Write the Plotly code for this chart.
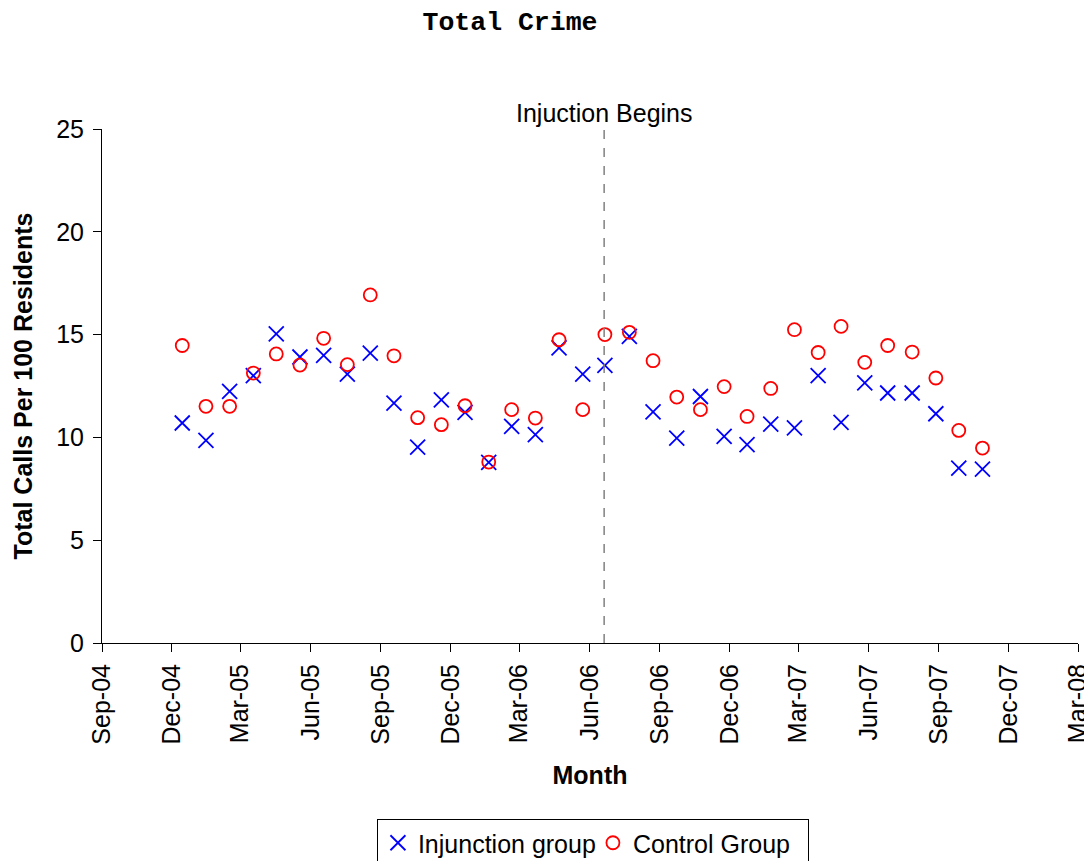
import plotly.graph_objects as go

dates = [
    "2004-12-15", "2005-01-15", "2005-02-15", "2005-03-18", "2005-04-17",
    "2005-05-18", "2005-06-18", "2005-07-19", "2005-08-18", "2005-09-18",
    "2005-10-19", "2005-11-19", "2005-12-20", "2006-01-20", "2006-02-19",
    "2006-03-22", "2006-04-22", "2006-05-23", "2006-06-21", "2006-07-23",
    "2006-08-23", "2006-09-23", "2006-10-24", "2006-11-24", "2006-12-24",
    "2007-01-24", "2007-02-24", "2007-03-27", "2007-04-26", "2007-05-27",
    "2007-06-26", "2007-07-28", "2007-08-28", "2007-09-27", "2007-10-28",
]

injunction = [
    10.70, 9.85, 12.24, 13.00, 15.03, 13.91, 13.99, 13.08, 14.10, 11.67,
    9.53, 11.83, 11.22, 8.78, 10.54, 10.13, 14.35, 13.08, 13.50, 14.91,
    11.24, 9.97, 11.99, 10.05, 9.65, 10.65, 10.46, 13.00, 10.73, 12.65,
    12.16, 12.16, 11.15, 8.51, 8.46,
]

control = [
    14.47, 11.51, 11.51, 13.13, 14.06, 13.52, 14.82, 13.54, 16.93, 13.97,
    10.96, 10.62, 11.54, 8.80, 11.35, 10.94, 14.75, 11.35, 15.00, 15.11,
    13.73, 11.96, 11.35, 12.47, 11.02, 12.38, 15.24, 14.13, 15.40, 13.65,
    14.47, 14.15, 12.89, 10.34, 9.48,
]

tick_dates = [
    "2004-09-01", "2004-12-01", "2005-03-01", "2005-06-01", "2005-09-01",
    "2005-12-01", "2006-03-01", "2006-06-01", "2006-09-01", "2006-12-01",
    "2007-03-01", "2007-06-01", "2007-09-01", "2007-12-01", "2008-03-01",
]
tick_labels = [
    "Sep-04", "Dec-04", "Mar-05", "Jun-05", "Sep-05", "Dec-05", "Mar-06",
    "Jun-06", "Sep-06", "Dec-06", "Mar-07", "Jun-07", "Sep-07", "Dec-07",
    "Mar-08",
]

injunction_start = "2006-06-20"

FONT = "Liberation Sans, Arial, sans-serif"
W, H = 1092, 861  # page body has an 8px margin; figure is shifted by 8px

fig = go.Figure()
fig.add_trace(go.Scatter(
    x=dates, y=injunction, mode="markers", name="Injunction group",
    marker=dict(symbol="x-thin-open", size=15, color="#0000FF",
                line=dict(color="#0000FF", width=1.8)),
))
fig.add_trace(go.Scatter(
    x=dates, y=control, mode="markers", name="Control Group",
    marker=dict(symbol="circle-open", size=13, color="#FF0000",
                line=dict(color="#FF0000", width=1.8)),
))

fig.add_shape(type="line", xref="x", yref="paper",
              x0=injunction_start, x1=injunction_start, y0=0, y1=1,
              line=dict(color="#808080", width=1.5, dash="dash"))
fig.add_annotation(x=injunction_start, xref="x", yref="paper", y=1.0317,
                   yanchor="middle", xanchor="center", showarrow=False,
                   text="Injuction Begins",
                   font=dict(family=FONT, size=25, color="black"))

fig.update_layout(
    width=W, height=H,
    margin=dict(l=94, r=22, t=121, b=226, autoexpand=False),
    paper_bgcolor="white", plot_bgcolor="white",
    title=dict(text="<b>Total Crime</b>", xref="container", yref="container",
               x=502 / W, y=1 - 13 / H, xanchor="center", yanchor="middle",
               font=dict(family="Liberation Mono, Courier New, monospace",
                         size=26.5, color="black")),
    showlegend=True,
    legend=dict(orientation="h", xref="paper", x=0.503, xanchor="center",
                yref="container", y=1 - 811 / H, yanchor="top",
                bordercolor="black", borderwidth=1, entrywidth=170,
                font=dict(family=FONT, size=25, color="black"),
                bgcolor="white"),
    font=dict(family=FONT, size=25, color="black"),
)

fig.update_xaxes(
    type="date", range=["2004-09-01", "2008-03-01"], automargin=False,
    tickmode="array", tickvals=tick_dates, ticktext=tick_labels,
    tickangle=-90, ticks="outside", ticklen=8, tickcolor="black",
    ticklabelstandoff=2,
    showline=True, linecolor="black", linewidth=1,
    showgrid=False, zeroline=False,
    tickfont=dict(family=FONT, size=25, color="black"),
    title=dict(text="<b>Month</b>", standoff=22,
               font=dict(family=FONT, size=25, color="black")),
)
fig.update_yaxes(
    range=[0, 25], tickvals=[0, 5, 10, 15, 20, 25], automargin=False,
    ticks="outside", ticklen=8, tickcolor="black",
    ticklabelstandoff=4,
    showline=True, linecolor="black", linewidth=1,
    showgrid=False, zeroline=False,
    tickfont=dict(family=FONT, size=25, color="black"),
    title=dict(text="<b>Total Calls Per 100 Residents</b>", standoff=16,
               font=dict(family=FONT, size=25, color="black")),
)

fig.write_html("out.html")
